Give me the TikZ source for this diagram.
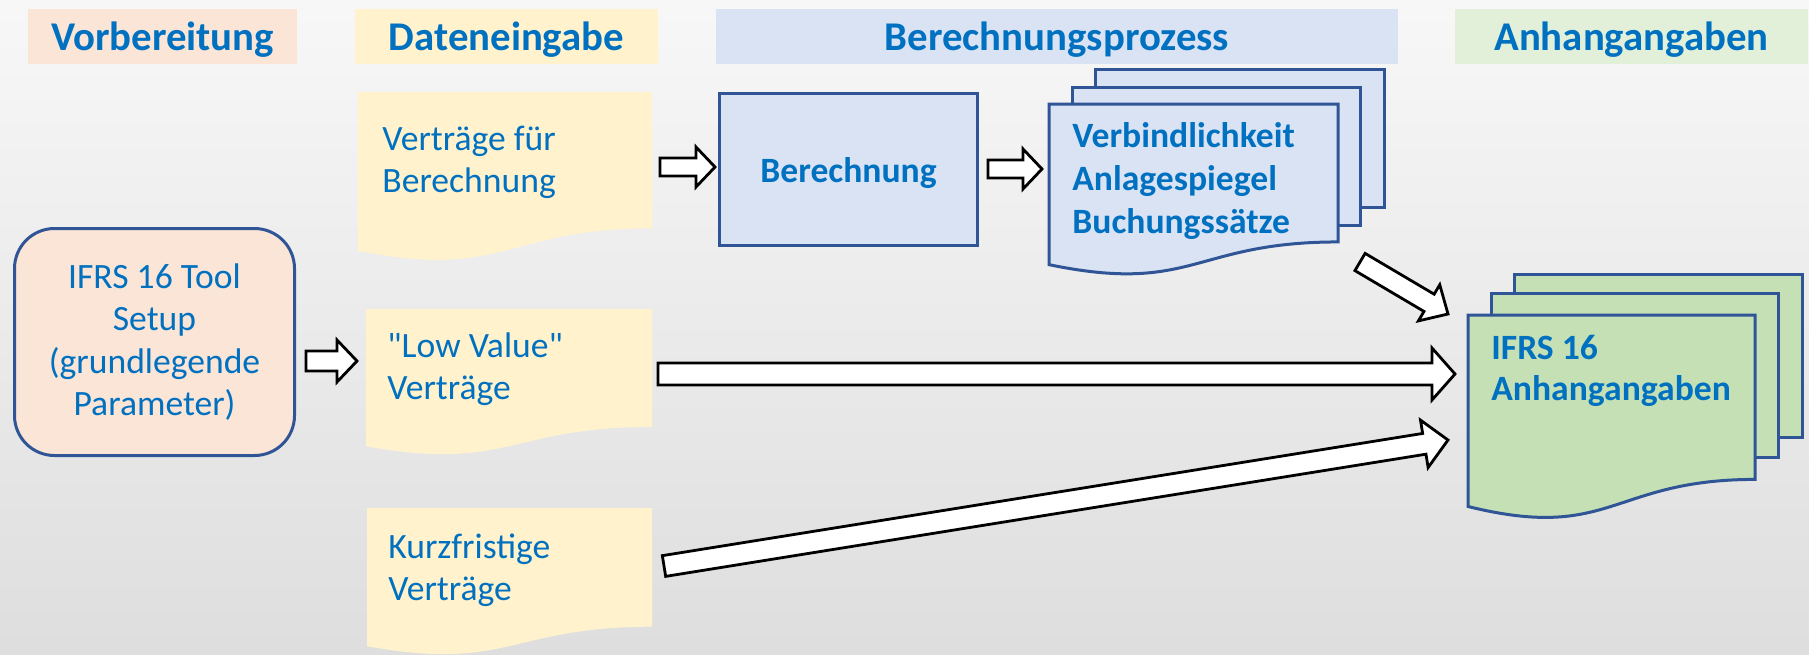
\documentclass[tikz,border=0pt]{standalone}
\usepackage{fontspec}
\setmainfont{Carlito}
\usetikzlibrary{calc}
\definecolor{txtblue}{HTML}{0070C0}
\definecolor{edgeblue}{HTML}{2F5597}
\definecolor{peach}{HTML}{FBE5D6}
\definecolor{cream}{HTML}{FFF2CC}
\definecolor{paleblue}{HTML}{DAE3F3}
\definecolor{palegreen}{HTML}{E2F0D9}
\definecolor{docgreen}{HTML}{C5E0B4}
\newcommand\docpath[4]{(#1,#2) -- ({#1+#3},#2) -- ({#1+#3},{#2+0.802*#4}) .. controls ({#1+0.5*#3},{#2+0.802*#4}) and ({#1+0.5*#3},{#2+1.1075*#4}) .. (#1,{#2+0.934*#4}) -- cycle}
\newcommand\barrow[5]{%
  \coordinate (bac) at ($(#2)!#5!(#1)$);
  \draw[blockarrow] ($(#1)!#3!90:(#2)$) -- ($(bac)!#3!90:(#2)$) -- ($(bac)!#4!90:(#2)$) -- (#2) -- ($(bac)!#4!-90:(#2)$) -- ($(bac)!#3!-90:(#2)$) -- ($(#1)!#3!-90:(#2)$) -- cycle;
}
\begin{document}
\begin{tikzpicture}[x=0.5pt,y=-0.5pt,
  hdr/.style={fill=#1, minimum height=27.5pt, text height=14pt, text depth=0pt, inner sep=0pt, font=\fontsize{20.4}{24}\selectfont\bfseries, text=txtblue},
  blockarrow/.style={draw=black, fill=white, line width=1.4pt, line join=miter},
  doctxt/.style={anchor=base west, inner sep=0pt, text=txtblue, font=\fontsize{17.8}{21}\selectfont, align=left},
  edge/.style={draw=edgeblue, line width=1.5pt, line join=miter}]
\useasboundingbox (0,0) rectangle (1809,654);
\fill[top color=white!97!black, bottom color=white!87!black] (0,0) rectangle (1809,654);
% headers
\node[hdr=peach, minimum width=134.5pt] (h1) at (162.5,36) {Vorbereitung};
\node[hdr=cream, minimum width=151.5pt] (h2) at (506.5,36) {Dateneingabe};
\node[hdr=paleblue, minimum width=341pt] (h3) at (1057,36) {Berechnungsprozess};
\node[hdr=palegreen, minimum width=176.5pt] (h4) at (1631.5,36) {Anhangangaben};
% setup
\node[edge, fill=peach, rounded corners=20pt, minimum width=140pt, minimum height=113.5pt, align=center, text=txtblue, font=\fontsize{17.8}{21.2}\selectfont] (setup) at (154.5,342) {IFRS 16 Tool\\Setup\\(grundlegende\\Parameter)};
% input documents
\fill[cream] \docpath{358}{92}{294}{170};
\node[doctxt] (vfb) at (382,192) {Verträge für\\Berechnung};
\fill[cream] \docpath{366}{309}{286}{147};
\node[doctxt] (lv) at (387,399) {\textquotedbl Low Value\textquotedbl\\Verträge};
\fill[cream] \docpath{367}{508}{285}{148};
\node[doctxt] (kf) at (388,600) {Kurzfristige\\Verträge};
% calculation
\node[edge, fill=paleblue, minimum width=129pt, minimum height=76pt, text height=12.5pt, text depth=0pt, text=txtblue, font=\fontsize{17.8}{21}\selectfont\bfseries] (calc) at (848.5,169.5) {Berechnung};
% result stack
\filldraw[edge, fill=paleblue] (1095,69) rectangle (1384,207);
\filldraw[edge, fill=paleblue] (1072,87) rectangle (1360,225);
\filldraw[edge, fill=paleblue] \docpath{1049}{104}{289}{172};
\node[doctxt, font=\fontsize{17.8}{21.5}\selectfont\bfseries] (res) at (1072,233) {Verbindlichkeit\\Anlagespiegel\\Buchungssätze};
% disclosure stack
\filldraw[edge, fill=docgreen] (1514,274) rectangle (1802,437);
\filldraw[edge, fill=docgreen] (1491,293) rectangle (1778,457);
\filldraw[edge, fill=docgreen] \docpath{1468}{315}{287}{205};
\node[doctxt, font=\fontsize{17.8}{20.5}\selectfont\bfseries] (anh) at (1491,400) {IFRS 16\\Anhangangaben};
% arrows
\coordinate (a1s) at (306,361); \coordinate (a1e) at (357,361);
\coordinate (a2s) at (660,167); \coordinate (a2e) at (715,167);
\coordinate (a3s) at (988,169); \coordinate (a3e) at (1042,169);
\coordinate (a4s) at (1360,262); \coordinate (a4e) at (1448,314);
\coordinate (a5s) at (658,374); \coordinate (a5e) at (1455,374);
\coordinate (a6s) at (664,566); \coordinate (a6e) at (1448,440);
\barrow{a1s}{a1e}{5pt}{10.5pt}{10pt}
\barrow{a2s}{a2e}{4.5pt}{10pt}{9.5pt}
\barrow{a3s}{a3e}{4.5pt}{10pt}{9.5pt}
\barrow{a4s}{a4e}{5pt}{10.5pt}{11pt}
\barrow{a5s}{a5e}{5.5pt}{13pt}{11.5pt}
\barrow{a6s}{a6e}{5.25pt}{12pt}{12pt}
\end{tikzpicture}
\end{document}
